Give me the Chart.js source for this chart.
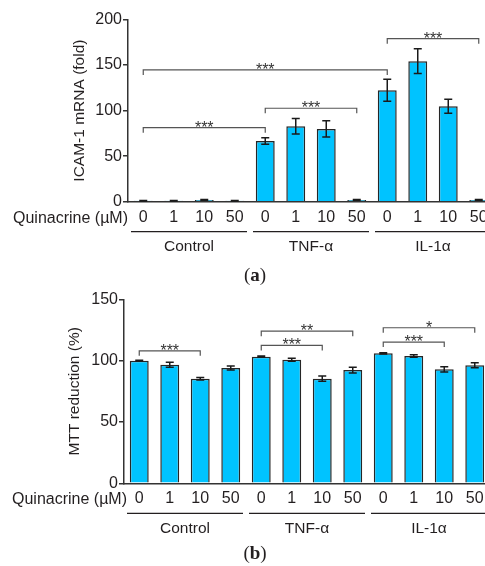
<!DOCTYPE html>
<html><head><meta charset="utf-8">
<script src="https://cdn.jsdelivr.net/npm/chart.js@4.4.1/dist/chart.umd.min.js"></script>
<style>
html,body{margin:0;padding:0;background:#fff;width:485px;height:566px;overflow:hidden;position:relative}
canvas{position:absolute;left:0}
#ca{top:0}
#cb{top:280px}
</style></head><body>
<canvas id="ca" width="500" height="290"></canvas>
<canvas id="cb" width="500" height="286"></canvas>
<script>
// ---------- data ----------
const doses = ['0','1','10','50','0','1','10','50','0','1','10','50'];
const groups = ['Control','TNF-α','IL-1α'];
const xPrefix = 'Quinacrine (µM)';

const icamMean = [1, 1, 2, 1, 66.7, 82.8, 79.9, 2, 122.4, 154.3, 104.8, 2];
const icamErr  = [0.3, 0.3, 0.4, 0.3, 3.6, 8.4, 9.0, 0.4, 12.0, 13.5, 7.7, 0.4];
const icamTicks = [0, 50, 100, 150, 200];
const icamBrFrom  = [0, 0, 4, 8];
const icamBrTo    = [4, 8, 7, 11];
const icamBrY     = [81.3, 144.7, 102.6, 179];
const icamBrLabel = ['***', '***', '***', '***'];

const mttMean = [100, 96.7, 85.3, 94, 103.2, 100.7, 85.3, 92.3, 106, 103.7, 92.9, 96.2];
const mttErr  = [0.3, 2.0, 1.0, 1.7, 0.5, 1.3, 2.2, 2.4, 0.5, 1.0, 2.2, 2.1];
const mttTicks = [0, 50, 100, 150];
const mttBrFrom  = [0, 4, 4, 8, 8];
const mttBrTo    = [2, 6, 7, 10, 11];
const mttBrY     = [108, 112.4, 124, 115.1, 126.8];
const mttBrLabel = ['***', '***', '**', '***', '*'];

// ---------- styling ----------
const TXT = '#231f20';
const FONT = '"Liberation Sans", Arial, sans-serif';
const BAR = '#00c3ff';

function annotPlugin(o){
  return {
    id: 'annot',
    afterDatasetsDraw(chart){
      const ctx = chart.ctx, xs = chart.scales.x, ys = chart.scales.y;
      ctx.save();
      // error bars
      ctx.strokeStyle = '#1a1a1a'; ctx.lineWidth = 1.5;
      o.mean.forEach((m, i) => {
        const x = xs.getPixelForValue(i);
        const t = ys.getPixelForValue(m + o.err[i]);
        const b = ys.getPixelForValue(Math.max(0, m - o.err[i]));
        ctx.beginPath();
        ctx.moveTo(x, t); ctx.lineTo(x, b);
        ctx.moveTo(x - 4, t); ctx.lineTo(x + 4, t);
        ctx.moveTo(x - 4, b); ctx.lineTo(x + 4, b);
        ctx.stroke();
      });
      // significance brackets
      ctx.strokeStyle = '#555'; ctx.lineWidth = 1.2;
      ctx.fillStyle = '#333'; ctx.font = '16px ' + FONT;
      ctx.textAlign = 'center'; ctx.textBaseline = 'alphabetic';
      o.brFrom.forEach((f, k) => {
        const x1 = xs.getPixelForValue(f), x2 = xs.getPixelForValue(o.brTo[k]);
        const y = ys.getPixelForValue(o.brY[k]);
        ctx.beginPath();
        ctx.moveTo(x1, y + 5); ctx.lineTo(x1, y); ctx.lineTo(x2, y); ctx.lineTo(x2, y + 5);
        ctx.stroke();
        ctx.fillText(o.brLabel[k], (x1 + x2) / 2, y + 5);
      });
      ctx.restore();
    },
    afterDraw(chart){
      const ctx = chart.ctx, xs = chart.scales.x, ca = chart.chartArea;
      ctx.save();
      ctx.fillStyle = TXT;
      // y title
      ctx.font = '15.5px ' + FONT;
      ctx.translate(o.titleX, (ca.top + ca.bottom) / 2);
      ctx.rotate(-Math.PI / 2);
      ctx.textAlign = 'center'; ctx.textBaseline = 'middle';
      ctx.fillText(o.title, 0, 0);
      ctx.setTransform(1, 0, 0, 1, 0, 0);
      // x prefix
      ctx.font = '16px ' + FONT;
      ctx.textAlign = 'right'; ctx.textBaseline = 'middle';
      ctx.fillText(xPrefix, ca.left + o.prefixDx, ca.bottom + 16.5);
      // group lines + labels
      const half = (xs.getPixelForValue(1) - xs.getPixelForValue(0)) / 2;
      ctx.strokeStyle = TXT; ctx.lineWidth = 1.2;
      ctx.textAlign = 'center';
      ctx.font = '15.5px ' + FONT;
      groups.forEach((g, gi) => {
        const a = xs.getPixelForValue(gi * 4) - half + 3;
        const b = xs.getPixelForValue(gi * 4 + 3) + half - 3;
        ctx.beginPath(); ctx.moveTo(a, ca.bottom + 30); ctx.lineTo(b, ca.bottom + 30); ctx.stroke();
        ctx.fillText(g, (a + b) / 2, ca.bottom + 45.5);
      });
      // panel label
      ctx.textAlign = 'left'; ctx.textBaseline = 'middle';
      const py = ca.bottom + o.panelDy;
      ctx.font = '19px "Liberation Serif", serif';
      const w1 = ctx.measureText('(').width;
      ctx.font = 'bold 19px "Liberation Serif", serif';
      const w2 = ctx.measureText(o.panel).width;
      let px = 255 - (w1 * 2 + w2) / 2;
      ctx.font = '19px "Liberation Serif", serif';
      ctx.fillText('(', px, py);
      ctx.font = 'bold 19px "Liberation Serif", serif';
      ctx.fillText(o.panel, px + w1, py);
      ctx.font = '19px "Liberation Serif", serif';
      ctx.fillText(')', px + w1 + w2, py);
      ctx.restore();
    }
  };
}

function makeChart(id, o){
  return new Chart(document.getElementById(id), {
    type: 'bar',
    data: {
      labels: doses,
      datasets: [{
        data: o.mean,
        backgroundColor: BAR,
        borderColor: '#262626',
        borderWidth: 1.5,
        barPercentage: 0.62,
        categoryPercentage: 1.0
      }]
    },
    options: {
      responsive: false,
      animation: false,
      devicePixelRatio: 1,
      layout: { padding: { top: o.padTop, right: o.padRight, bottom: o.padBottom, left: 0 } },
      plugins: { legend: { display: false }, tooltip: { enabled: false } },
      scales: {
        x: {
          type: 'category',
          offset: true,
          grid: { display: true, drawOnChartArea: false, drawTicks: false },
          border: { display: true, color: '#333', width: 1.5 },
          ticks: { color: TXT, font: { family: FONT, size: 16 }, padding: 6, autoSkip: false, maxRotation: 0 },
          afterFit: s => { s.height = 24; }
        },
        y: {
          min: 0, max: o.max,
          afterBuildTicks: s => { s.ticks = o.ticks.map(v => ({ value: v })); },
          grid: { display: true, drawOnChartArea: false, drawTicks: true, tickLength: 5, color: '#333', lineWidth: 1.5 },
          border: { display: true, color: '#333', width: 1.5 },
          ticks: { color: TXT, font: { family: FONT, size: 16 }, padding: 1 },
          afterFit: s => { s.width = o.left; }
        }
      }
    },
    plugins: [annotPlugin(o)]
  });
}

makeChart('ca', {
  mean: icamMean, err: icamErr, ticks: icamTicks, max: 200,
  brFrom: icamBrFrom, brTo: icamBrTo, brY: icamBrY, brLabel: icamBrLabel,
  title: 'ICAM-1 mRNA (fold)', titleX: 80, panel: 'a', panelDy: 74, prefixDx: 0,
  left: 128, padTop: 19.5, padRight: 6, padBottom: 290 - 24 - 201.7
});
makeChart('cb', {
  mean: mttMean, err: mttErr, ticks: mttTicks, max: 150,
  brFrom: mttBrFrom, brTo: mttBrTo, brY: mttBrY, brLabel: mttBrLabel,
  title: 'MTT reduction (%)', titleX: 75, panel: 'b', panelDy: 71, prefixDx: 3,
  left: 124, padTop: 19.3, padRight: 10, padBottom: 286 - 24 - 203.3
});
</script>
</body></html>
